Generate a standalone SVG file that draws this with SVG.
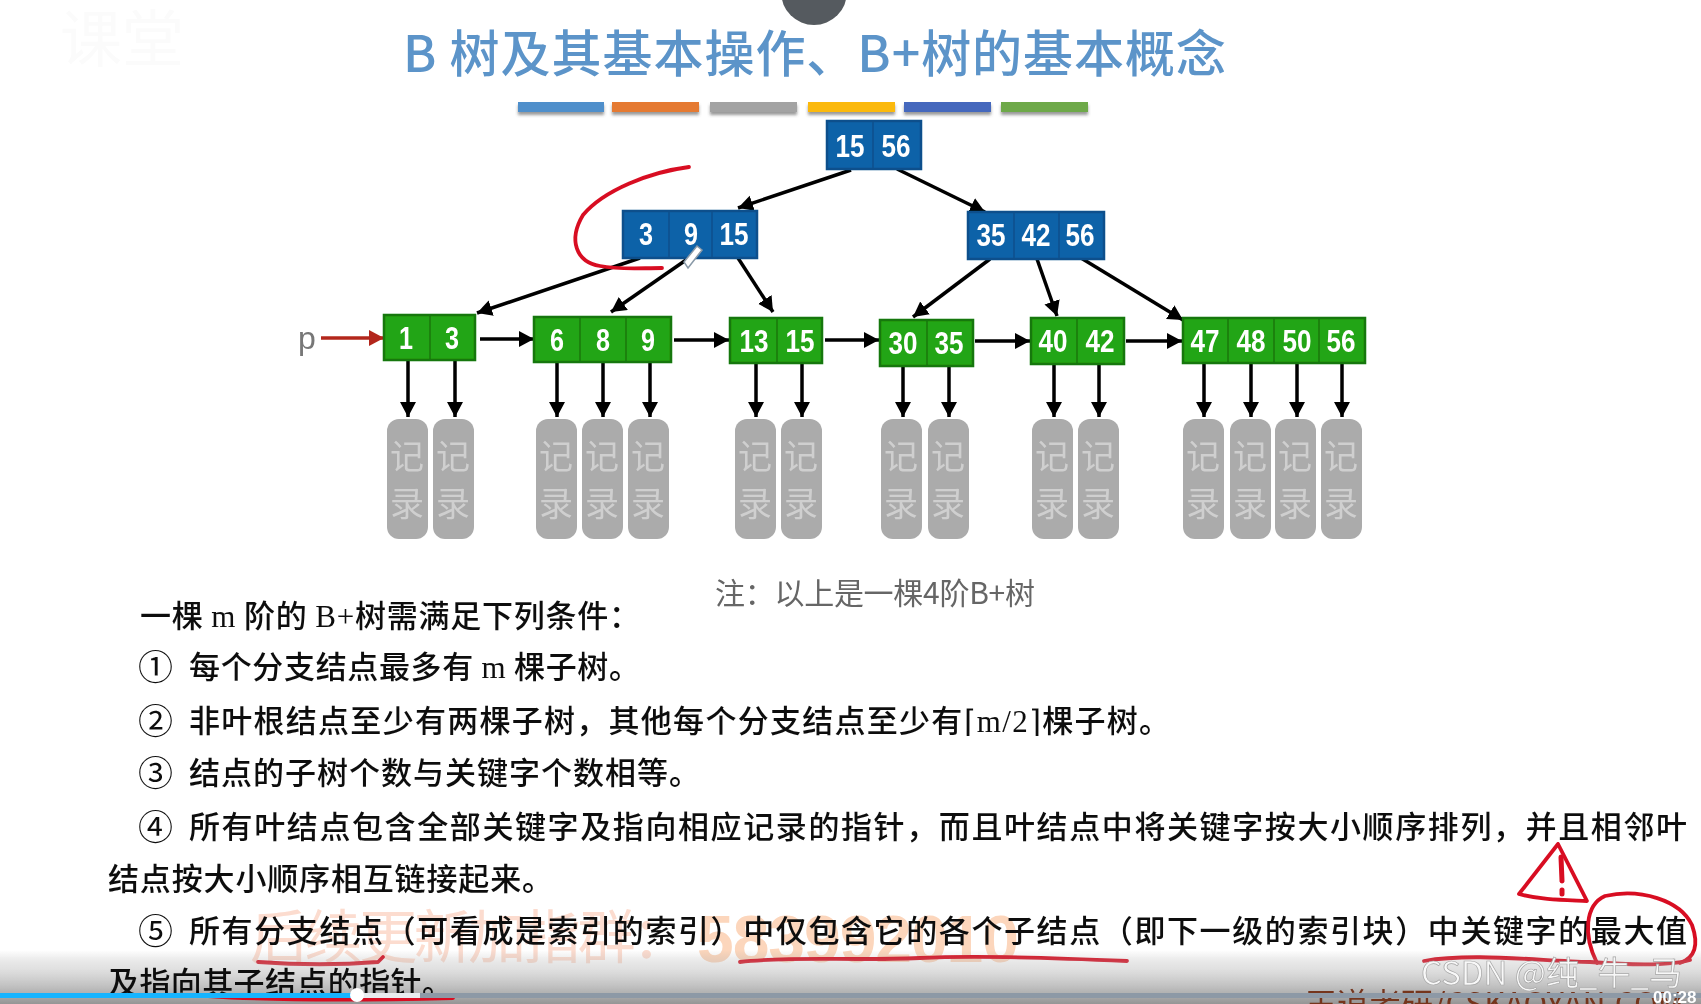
<svg xmlns="http://www.w3.org/2000/svg" width="1701" height="1004" viewBox="0 0 1701 1004">
<defs>
<style>
text{font-family:"Noto Sans CJK SC","Noto Sans",sans-serif}
.num{font-family:"Liberation Sans",Arial,sans-serif;font-size:31px;font-weight:700;fill:#fff;text-anchor:middle}
.blue rect{fill:#0f62a8;stroke:#0b4f8c;stroke-width:2.5}
.green rect{fill:#24a512;stroke:#17770f;stroke-width:2.5}
.blue line{stroke:#0b4f8c;stroke-width:1.5}
.green line{stroke:#17770f;stroke-width:1.5}
.rec rect{fill:#ababab}
.rec text{font-size:34px;fill:#cfcfcf;text-anchor:middle}
.body{font-size:31px;fill:#111;font-weight:500}
.cir{font-size:35px;font-weight:400}
.ser{font-family:"Liberation Serif",serif}
.conn line{stroke:#000;stroke-width:3.5;marker-end:url(#ah)}
.ink{fill:none;stroke:#d80f22;stroke-width:3.8;stroke-linecap:round;stroke-linejoin:round}
</style>
<marker id="ah" markerUnits="userSpaceOnUse" markerWidth="18" markerHeight="18" refX="15" refY="8" orient="auto"><path d="M0,0 L15,8 L0,16 Z" fill="#000"/></marker>
<marker id="ahr" markerUnits="userSpaceOnUse" markerWidth="18" markerHeight="18" refX="15" refY="8" orient="auto"><path d="M0,0 L15,8 L0,16 Z" fill="#b3261a"/></marker>
<linearGradient id="fade" x1="0" y1="0" x2="0" y2="1"><stop offset="0" stop-color="#999" stop-opacity="0"/><stop offset="0.35" stop-color="#bbb" stop-opacity=".45"/><stop offset="1" stop-color="#8f8f8f" stop-opacity=".95"/></linearGradient>
<filter id="soft" x="0" y="0" width="100%" height="100%"><feGaussianBlur stdDeviation="0.6"/></filter>
<filter id="sh" x="-5%" y="-50%" width="110%" height="250%"><feDropShadow dx="0" dy="3" stdDeviation="1.5" flood-color="#555" flood-opacity=".6"/></filter>
</defs>
<rect width="1701" height="1004" fill="#fff"/>
<g filter="url(#soft)">
<text x="60" y="62" font-size="62" fill="#fbfbfb">课堂</text>
<circle cx="814" cy="-8" r="33" fill="#555a5e"/>
<text x="403" y="72" font-size="50" font-weight="500" fill="#5b94c9" textLength="823" lengthAdjust="spacing">B 树及其基本操作、B+树的基本概念</text>
<g id="bars" filter="url(#sh)">
<rect x="518" y="102" width="86" height="10" fill="#4f8fcb"/>
<rect x="612" y="102" width="87" height="10" fill="#e57a33"/>
<rect x="710" y="102" width="87" height="10" fill="#a3a3a3"/>
<rect x="808" y="102" width="87" height="10" fill="#fbb90f"/>
<rect x="904" y="102" width="87" height="10" fill="#4468bd"/>
<rect x="1001" y="102" width="87" height="10" fill="#6ea94a"/>
</g>
<text x="250" y="958" font-size="58" fill="#fcdccf" textLength="440" lengthAdjust="spacing">后续更新加指群：</text>
<text x="697" y="962" font-size="66" font-weight="700" fill="#fcd6bc" style="font-family:'Liberation Sans',sans-serif" textLength="322" lengthAdjust="spacing">583992010</text>

<g id="connectors" class="conn">
<line x1="851" y1="170" x2="738" y2="208"/>
<line x1="897" y1="169" x2="985" y2="212"/>
<line x1="640" y1="258" x2="477" y2="313"/>
<line x1="686" y1="260" x2="611" y2="312"/>
<line x1="738" y1="258" x2="773" y2="312"/>
<line x1="990" y1="259" x2="913" y2="317"/>
<line x1="1037" y1="259" x2="1057" y2="316"/>
<line x1="1081" y1="258" x2="1183" y2="320"/>
<line x1="321" y1="338" x2="384" y2="338" style="stroke:#b3261a;marker-end:url(#ahr)"/>
<line x1="480" y1="339" x2="534" y2="339"/>
<line x1="674" y1="340" x2="729" y2="340"/>
<line x1="825" y1="340" x2="879" y2="340"/>
<line x1="975" y1="341" x2="1030" y2="341"/>
<line x1="1126" y1="341" x2="1182" y2="341"/>
<line x1="408" y1="360" x2="408" y2="417"/>
<line x1="455" y1="360" x2="455" y2="417"/>
<line x1="557" y1="362" x2="557" y2="417"/>
<line x1="603" y1="362" x2="603" y2="417"/>
<line x1="650" y1="362" x2="650" y2="417"/>
<line x1="756" y1="363" x2="756" y2="417"/>
<line x1="802" y1="363" x2="802" y2="417"/>
<line x1="903" y1="366" x2="903" y2="417"/>
<line x1="949" y1="366" x2="949" y2="417"/>
<line x1="1054" y1="364" x2="1054" y2="417"/>
<line x1="1099" y1="364" x2="1099" y2="417"/>
<line x1="1204" y1="363" x2="1204" y2="417"/>
<line x1="1251" y1="363" x2="1251" y2="417"/>
<line x1="1297" y1="363" x2="1297" y2="417"/>
<line x1="1342" y1="363" x2="1342" y2="417"/>
</g>

<g id="root" class="blue"><rect x="827" y="121" width="94" height="48"/><line x1="873" y1="121" x2="873" y2="169"/><text class="num" x="850" y="157" textLength="29" lengthAdjust="spacingAndGlyphs">15</text><text class="num" x="896" y="157" textLength="29" lengthAdjust="spacingAndGlyphs">56</text></g>
<g id="n-left" class="blue"><rect x="623" y="211" width="134" height="47"/><line x1="669" y1="211" x2="669" y2="258"/><line x1="712" y1="211" x2="712" y2="258"/><text class="num" x="646" y="245" textLength="14" lengthAdjust="spacingAndGlyphs">3</text><text class="num" x="691" y="245" textLength="14" lengthAdjust="spacingAndGlyphs">9</text><text class="num" x="734" y="245" textLength="29" lengthAdjust="spacingAndGlyphs">15</text></g>
<g id="n-right" class="blue"><rect x="968" y="212" width="136" height="47"/><line x1="1014" y1="212" x2="1014" y2="259"/><line x1="1059" y1="212" x2="1059" y2="259"/><text class="num" x="991" y="246" textLength="29" lengthAdjust="spacingAndGlyphs">35</text><text class="num" x="1036" y="246" textLength="29" lengthAdjust="spacingAndGlyphs">42</text><text class="num" x="1080" y="246" textLength="29" lengthAdjust="spacingAndGlyphs">56</text></g>

<g id="leaf1" class="green"><rect x="384" y="315" width="91" height="45"/><line x1="430" y1="315" x2="430" y2="360"/><text class="num" x="406" y="349" textLength="14" lengthAdjust="spacingAndGlyphs">1</text><text class="num" x="452" y="349" textLength="14" lengthAdjust="spacingAndGlyphs">3</text></g>
<g id="leaf2" class="green"><rect x="534" y="317" width="137" height="45"/><line x1="580" y1="317" x2="580" y2="362"/><line x1="626" y1="317" x2="626" y2="362"/><text class="num" x="557" y="351" textLength="14" lengthAdjust="spacingAndGlyphs">6</text><text class="num" x="603" y="351" textLength="14" lengthAdjust="spacingAndGlyphs">8</text><text class="num" x="648" y="351" textLength="14" lengthAdjust="spacingAndGlyphs">9</text></g>
<g id="leaf3" class="green"><rect x="730" y="318" width="92" height="45"/><line x1="777" y1="318" x2="777" y2="363"/><text class="num" x="754" y="352" textLength="29" lengthAdjust="spacingAndGlyphs">13</text><text class="num" x="800" y="352" textLength="29" lengthAdjust="spacingAndGlyphs">15</text></g>
<g id="leaf4" class="green"><rect x="880" y="320" width="93" height="46"/><line x1="927" y1="320" x2="927" y2="366"/><text class="num" x="903" y="354" textLength="29" lengthAdjust="spacingAndGlyphs">30</text><text class="num" x="949" y="354" textLength="29" lengthAdjust="spacingAndGlyphs">35</text></g>
<g id="leaf5" class="green"><rect x="1031" y="318" width="93" height="46"/><line x1="1077" y1="318" x2="1077" y2="364"/><text class="num" x="1053" y="352" textLength="29" lengthAdjust="spacingAndGlyphs">40</text><text class="num" x="1100" y="352" textLength="29" lengthAdjust="spacingAndGlyphs">42</text></g>
<g id="leaf6" class="green"><rect x="1183" y="318" width="182" height="45"/><line x1="1228" y1="318" x2="1228" y2="363"/><line x1="1274" y1="318" x2="1274" y2="363"/><line x1="1319" y1="318" x2="1319" y2="363"/><text class="num" x="1205" y="352" textLength="29" lengthAdjust="spacingAndGlyphs">47</text><text class="num" x="1251" y="352" textLength="29" lengthAdjust="spacingAndGlyphs">48</text><text class="num" x="1297" y="352" textLength="29" lengthAdjust="spacingAndGlyphs">50</text><text class="num" x="1341" y="352" textLength="29" lengthAdjust="spacingAndGlyphs">56</text></g>

<g id="r1" class="rec"><rect x="387" y="419" width="41" height="120" rx="12"/><text x="407" y="469">记</text><text x="407" y="516">录</text></g>
<g id="r2" class="rec"><rect x="433" y="419" width="41" height="120" rx="12"/><text x="453" y="469">记</text><text x="453" y="516">录</text></g>
<g id="r3" class="rec"><rect x="536" y="419" width="41" height="120" rx="12"/><text x="556" y="469">记</text><text x="556" y="516">录</text></g>
<g id="r4" class="rec"><rect x="582" y="419" width="41" height="120" rx="12"/><text x="602" y="469">记</text><text x="602" y="516">录</text></g>
<g id="r5" class="rec"><rect x="628" y="419" width="41" height="120" rx="12"/><text x="648" y="469">记</text><text x="648" y="516">录</text></g>
<g id="r6" class="rec"><rect x="735" y="419" width="41" height="120" rx="12"/><text x="755" y="469">记</text><text x="755" y="516">录</text></g>
<g id="r7" class="rec"><rect x="781" y="419" width="41" height="120" rx="12"/><text x="801" y="469">记</text><text x="801" y="516">录</text></g>
<g id="r8" class="rec"><rect x="881" y="419" width="41" height="120" rx="12"/><text x="901" y="469">记</text><text x="901" y="516">录</text></g>
<g id="r9" class="rec"><rect x="928" y="419" width="41" height="120" rx="12"/><text x="948" y="469">记</text><text x="948" y="516">录</text></g>
<g id="r10" class="rec"><rect x="1032" y="419" width="41" height="120" rx="12"/><text x="1052" y="469">记</text><text x="1052" y="516">录</text></g>
<g id="r11" class="rec"><rect x="1078" y="419" width="41" height="120" rx="12"/><text x="1098" y="469">记</text><text x="1098" y="516">录</text></g>
<g id="r12" class="rec"><rect x="1183" y="419" width="41" height="120" rx="12"/><text x="1203" y="469">记</text><text x="1203" y="516">录</text></g>
<g id="r13" class="rec"><rect x="1230" y="419" width="41" height="120" rx="12"/><text x="1250" y="469">记</text><text x="1250" y="516">录</text></g>
<g id="r14" class="rec"><rect x="1275" y="419" width="41" height="120" rx="12"/><text x="1295" y="469">记</text><text x="1295" y="516">录</text></g>
<g id="r15" class="rec"><rect x="1321" y="419" width="41" height="120" rx="12"/><text x="1341" y="469">记</text><text x="1341" y="516">录</text></g>

<text x="298" y="349" font-size="32" fill="#777" style="font-family:'Liberation Sans',sans-serif">p</text>
<text x="715" y="604" font-size="30" fill="#666" textLength="320" lengthAdjust="spacing">注：以上是一棵4阶B+树</text>

<g id="body" class="body">
<text x="140" y="627" textLength="500" lengthAdjust="spacing">一棵 <tspan class="ser">m</tspan> 阶的 <tspan class="ser">B+</tspan>树需满足下列条件：</text>
<text class="cir" x="138" y="680">①</text><text x="189" y="678" textLength="451" lengthAdjust="spacing">每个分支结点最多有 <tspan class="ser">m</tspan> 棵子树。</text>
<text class="cir" x="138" y="734">②</text><text x="189" y="732" textLength="981" lengthAdjust="spacing">非叶根结点至少有两棵子树，其他每个分支结点至少有⌈<tspan class="ser">m/2</tspan>⌉棵子树。</text>
<text class="cir" x="138" y="786">③</text><text x="189" y="784" textLength="511" lengthAdjust="spacing">结点的子树个数与关键字个数相等。</text>
<text class="cir" x="138" y="840">④</text><text x="189" y="838" textLength="1498" lengthAdjust="spacing">所有叶结点包含全部关键字及指向相应记录的指针，而且叶结点中将关键字按大小顺序排列，并且相邻叶</text>
<text x="108" y="890" textLength="445" lengthAdjust="spacing">结点按大小顺序相互链接起来。</text>
<text class="cir" x="138" y="944">⑤</text><text x="189" y="942" textLength="1498" lengthAdjust="spacing">所有分支结点（可看成是索引的索引）中仅包含它的各个子结点（即下一级的索引块）中关键字的最大值</text>
</g>

<g id="ink">
<path class="ink" d="M689,167 C650,172 604,190 583,215 C568,240 576,262 600,266 C620,270 640,268 662,268"/>
<path class="ink" d="M258,962 C300,965 340,965 378,962 L383,957"/>
<path class="ink" d="M740,962 C790,956 850,961 920,958 C980,955 1060,958 1127,961"/>
<path class="ink" d="M1424,961 C1470,953 1530,960 1590,962 C1630,965 1670,966 1690,960"/>
<path class="ink" d="M1597,963 C1583,935 1585,905 1605,896 C1640,888 1680,900 1692,925 C1699,945 1695,958 1680,963"/>
<path class="ink" d="M1558,844 L1519,894 C1540,900 1565,900 1587,901 L1558,844"/>
<path class="ink" d="M1561,857 L1562,881 M1562,890 L1562,894" style="stroke-width:5"/>
</g>
<path d="M688,268 L702,250 L697,246 L684,262 Z" fill="#fff" stroke="#8a9aa8" stroke-width="1.5"/>

<rect x="0" y="950" width="1701" height="54" fill="url(#fade)"/>
<text class="body" x="108" y="994" textLength="345" lengthAdjust="spacing">及指向其子结点的指针。</text>
<path class="ink" d="M208,996 C280,1001 380,1000 453,998"/>
<text x="1305" y="1016" font-size="32" fill="#74351e">王道考研/CSKAOYAN.COM</text>
<rect x="0" y="993" width="1701" height="5" fill="#8d99a6"/>
<rect x="357" y="993" width="63" height="5" fill="#e8ecef"/>
<rect x="0" y="993" width="357" height="5" fill="#18b4ff"/>
<circle cx="357" cy="995" r="7" fill="#fff"/>
<text x="1421" y="985" font-size="33" fill="#f8f8f8" stroke="#a5a5a5" stroke-width=".7">CSDN @纯_牛_马</text>
<text x="1653" y="1003" font-size="17" font-weight="700" fill="#fff" style="font-family:'Liberation Sans',sans-serif">00:28</text>
</g>
</svg>
